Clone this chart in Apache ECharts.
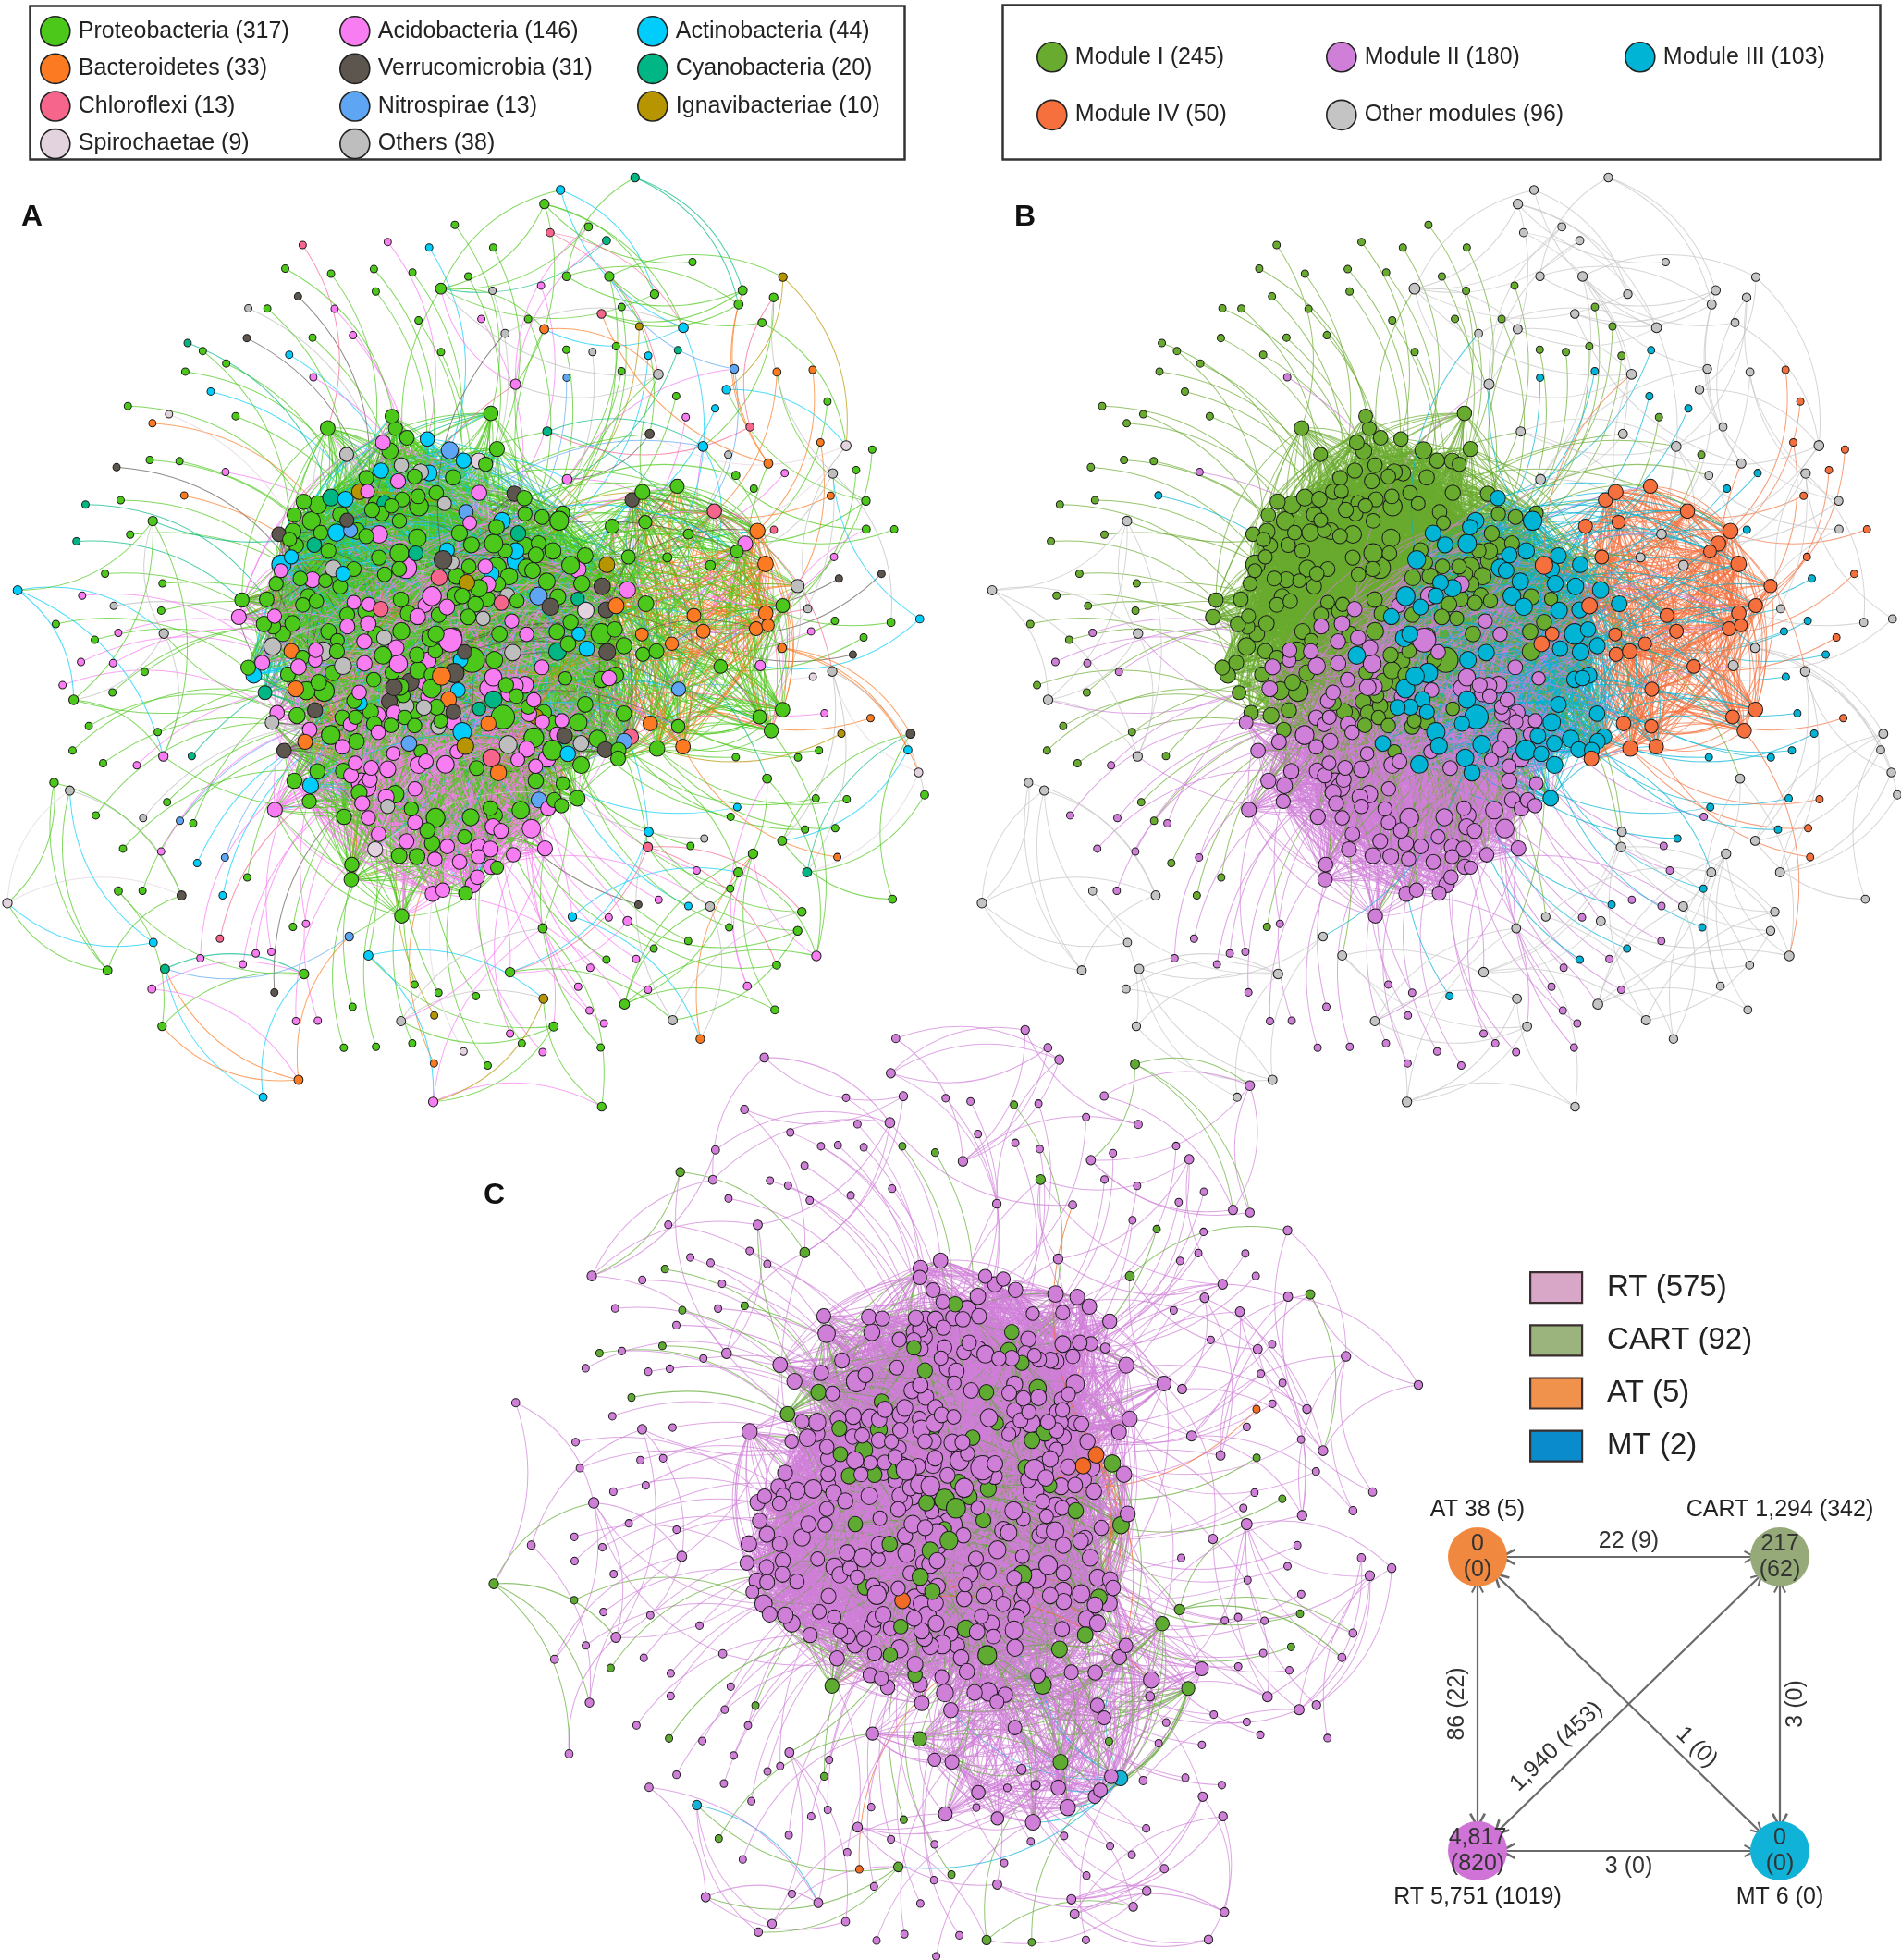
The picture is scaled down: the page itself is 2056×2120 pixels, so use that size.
<!DOCTYPE html>
<html>
<head>
<meta charset="utf-8">
<title>Co-occurrence networks</title>
<script src="https://cdn.jsdelivr.net/npm/echarts@6.0.0/dist/echarts.min.js"></script>
<style>
  html, body { margin: 0; padding: 0; background: #fff; }
  #chart { width: 2056px; height: 2120px; }
  #scratch { position: absolute; left: -4000px; top: 0; width: 1200px; height: 1200px; }
</style>
</head>
<body>
<div id="chart"></div>
<div id="scratch"></div>
<script>
;(function () {
    'use strict';

    // ---- groups shown in the three legends ----
    var taxa = ['Proteobacteria', 'Acidobacteria', 'Actinobacteria', 'Bacteroidetes', 'Verrucomicrobia',
        'Cyanobacteria', 'Chloroflexi', 'Nitrospirae', 'Ignavibacteriae', 'Spirochaetae', 'Others'];
    var taxaCounts = [317, 146, 44, 33, 31, 20, 13, 13, 10, 9, 38];
    var taxaColors = ['#4cc81a', '#f87cf2', '#00cdfb', '#fb7a22', '#5d564e', '#00b685',
        '#f6658b', '#5ea6f4', '#b79500', '#e2d3de', '#bebebe'];

    var modules = ['Module I', 'Module II', 'Module III', 'Module IV', 'Other modules'];
    var moduleCounts = [245, 180, 103, 50, 96];
    var moduleColors = ['#69ab2f', '#d07fd8', '#00b4d6', '#f5703d', '#c4c4c4'];

    var tissues = ['RT', 'CART', 'AT', 'MT'];
    var tissueCounts = [575, 92, 5, 2];
    var tissueKeyColors = ['#d8a7c7', '#9bb37d', '#f0924b', '#0a8bcb'];
    var tissueNodeColors = ['#d07fd8', '#5fab32', '#f26b26', '#14b3d8'];

    // taxon x module membership (columns: Module I..IV, Other), estimated from panels A/B
    var taxaByModule = [
        [140, 62, 50, 25, 40],
        [30, 95, 10, 2, 9],
        [22, 3, 6, 1, 12],
        [2, 3, 5, 17, 6],
        [10, 4, 12, 2, 3],
        [13, 0, 2, 0, 5],
        [3, 2, 3, 1, 4],
        [4, 2, 4, 1, 2],
        [2, 2, 4, 0, 2],
        [2, 2, 2, 0, 3],
        [17, 5, 5, 1, 10]
    ];
    // tissue x module membership (rows RT, CART, AT, MT), estimated
    var tissueByModule = [
        [205, 160, 82, 43, 85],
        [38, 18, 20, 6, 10],
        [2, 2, 1, 0, 0],
        [0, 0, 0, 1, 1]
    ];

    // links between modules [from, to, count]; with the small components the total is 7,089
    var moduleLinks = [
        [0, 0, 2500], [1, 1, 1750], [2, 2, 1100], [3, 3, 380],
        [0, 1, 320], [0, 2, 380], [1, 2, 320], [2, 3, 110],
        [1, 3, 15], [0, 3, 14], [0, 4, 15], [1, 4, 15], [2, 4, 6], [3, 4, 4]
    ];
    // "Other modules" = small satellite components: sizes and their internal links
    var otherModuleSizes = [14, 12, 11, 10, 9, 8, 8, 7, 6, 6, 5];
    var otherModuleLinks = [24, 20, 18, 16, 14, 13, 12, 12, 11, 10, 10];

    // ---- tissue summary diagram (bottom right) ----
    var summaryNodes = ['AT', 'CART', 'RT', 'MT'];
    var summaryTotals = ['38 (5)', '1,294 (342)', '5,751 (1019)', '6 (0)'];
    var summaryInner = ['0\n(0)', '217\n(62)', '4,817\n(820)', '0\n(0)'];
    var summaryCells = [[0, 1], [1, 1], [0, 0], [1, 0]];
    var summaryLinks = [
        [0, 1, '22 (9)'], [2, 0, '86 (22)'], [3, 1, '3 (0)'],
        [2, 3, '3 (0)'], [2, 1, '1,940 (453)'], [0, 3, '1 (0)']
    ];

    var FONT = '"Liberation Sans", Arial, sans-serif';
    var INK = '#222';
    var ARROW = 'path://M5,0L10,9L8.7,9.7L5,3L1.3,9.7L0,9Z';

    // R2 low-discrepancy steps: only decide which members a module's links join
    var STEP_U = 0.7548776662, STEP_V = 0.5698402910;
    var CORE_SHARE = 0.72;

    function frac(x) { return x - Math.floor(x); }
    function named(names, counts, i) { return names[i] + ' (' + counts[i] + ')'; }

    // spread the group sizes of one module column evenly over that module's ranks
    function spread(table, col) {
        var slots = [];
        table.forEach(function (row, g) {
            for (var j = 0; j < row[col]; j++) slots.push({g: g, at: (j + 0.5) / row[col]});
        });
        slots.sort(function (a, b) { return a.at - b.at || a.g - b.g; });
        return slots.map(function (x) { return x.g; });
    }

    function buildNetwork() {
        var members = [], moduleOf = [], comps = [], id = 0;
        var OTHER = moduleCounts.length - 1;
        moduleCounts.forEach(function (cnt, m) {
            var list = [];
            for (var k = 0; k < cnt; k++) { list.push(id); moduleOf.push(m); id++; }
            members.push(list);
        });
        var seen = {}, links = [], s = 0;
        function add(a, b) {
            if (a === b) return false;
            var key = a < b ? a + '_' + b : b + '_' + a;
            if (seen[key]) return false;
            seen[key] = true;
            links.push([a, b]);
            return true;
        }
        function coreOf(m) { return m === OTHER ? moduleCounts[m] : Math.round(moduleCounts[m] * CORE_SHARE); }
        function pick(m, u) { return members[m][Math.floor(coreOf(m) * Math.pow(u, 1.4))]; }

        // every member hangs on the core of its module
        for (var m = 0; m < OTHER; m++) {
            var L = members[m], core = coreOf(m);
            for (var k = 1; k < L.length; k++) add(L[k], L[Math.floor(Math.min(k, core) * frac(k * STEP_U))]);
        }
        // satellite components
        var start = 0;
        otherModuleSizes.forEach(function (size, j) {
            var comp = members[OTHER].slice(start, start + size);
            comps.push(comp);
            start += size;
            for (var k = 1; k < size; k++) add(comp[k], comp[Math.floor(k * frac(k * STEP_U))]);
            var made = size - 1, guard = 0;
            while (made < otherModuleLinks[j] && guard++ < 2000) {
                s++;
                if (add(comp[Math.floor(size * frac(0.5 + s * STEP_U))], comp[Math.floor(size * frac(0.5 + s * STEP_V))])) made++;
            }
        });
        moduleLinks.forEach(function (ml) {
            var p = ml[0], q = ml[1];
            var made = p === q ? moduleCounts[p] - 1 : 0, guard = 0;
            while (made < ml[2] && guard++ < ml[2] * 30) {
                s++;
                if (add(pick(p, frac(0.5 + s * STEP_U)), pick(q, frac(0.5 + s * STEP_V)))) made++;
            }
        });

        var degree = [], taxonOf = [], tissueOf = [];
        for (var i = 0; i < id; i++) degree.push(0);
        links.forEach(function (l) { degree[l[0]]++; degree[l[1]]++; });
        members.forEach(function (list, m) {
            var t = spread(taxaByModule, m), r = spread(tissueByModule, m);
            list.forEach(function (n, k) { taxonOf[n] = t[k]; tissueOf[n] = r[k]; });
        });
        return {count: id, links: links, members: members, comps: comps,
            moduleOf: moduleOf, taxonOf: taxonOf, tissueOf: tissueOf, degree: degree};
    }

    // order of nodes round the starting circle of the force layout
    function arrange(net, moduleOrder, compGroups, shift) {
        var order = [];
        moduleOrder.forEach(function (m, k) {
            order = order.concat(net.members[m]);
            compGroups[k].forEach(function (c) { order = order.concat(net.comps[c]); });
        });
        return order.slice(shift).concat(order.slice(0, shift));
    }

    // let ECharts' force layout place the nodes (off screen), once per node order
    function forceLayouts(net, orders) {
        var helper = echarts.init(document.getElementById('scratch'));
        var links = net.links.map(function (l) { return {source: 'n' + l[0], target: 'n' + l[1]}; });
        helper.setOption({
            animation: false,
            series: orders.map(function (order) {
                return {
                    type: 'graph', layout: 'force', silent: true,
                    force: {initLayout: 'circular', repulsion: 30, gravity: 0.3, edgeLength: 130, layoutAnimation: true},
                    symbolSize: 2,
                    lineStyle: {width: 0.2, opacity: 0.2},
                    data: order.map(function (i) { return {id: 'n' + i, name: 'n' + i}; }),
                    links: links
                };
            })
        });
        var model = helper.getModel();
        return orders.map(function (order, s) {
            var sm = model.getSeriesByIndex(s);
            var fl = sm.forceLayout, done = false, guard = 0;
            if (fl) {
                while (!done && guard++ < 3000) fl.step(function (stopped) { done = stopped; });
            }
            var data = sm.getData(), pos = {};
            for (var i = 0; i < data.count(); i++) {
                var p = data.getItemLayout(i);
                pos[data.getId(i)] = [p[0], p[1]];
            }
            return pos;
        });
    }

    function networkSeries(net, pos, cats, groupOf, box) {
        var nodes = [];
        for (var i = 0; i < net.count; i++) {
            var p = pos['n' + i];
            nodes.push({
                id: 'n' + i, name: 'n' + i, x: p[0], y: p[1],
                category: groupOf[i],
                symbolSize: 6 + 1.9 * Math.sqrt(net.degree[i])
            });
        }
        return {
            type: 'graph', layout: 'none', silent: true, roam: false,
            left: box[0], top: box[1], width: box[2], height: box[3],
            categories: cats,
            data: nodes,
            links: net.links.map(function (l) { return {source: 'n' + l[0], target: 'n' + l[1]}; }),
            itemStyle: {borderColor: '#1b1b1b', borderWidth: 1},
            lineStyle: {color: 'source', width: 1, opacity: 0.7, curveness: 0.25},
            label: {show: false},
            emphasis: {disabled: true}
        };
    }

    var net = buildNetwork();
    var orderAB = arrange(net, [3, 2, 1, 0], [[0, 1, 2], [3, 4, 5], [6, 7, 8], [9, 10]], 168);
    var orderC = arrange(net, [1, 3, 0, 2], [[0, 5, 9], [2, 4], [1, 6, 8], [3, 7, 10]], 60);
    var layouts = forceLayouts(net, [orderAB, orderC]);

    var taxaCats = taxa.map(function (t, i) { return {name: named(taxa, taxaCounts, i), itemStyle: {color: taxaColors[i]}}; });
    var moduleCats = modules.map(function (t, i) { return {name: named(modules, moduleCounts, i), itemStyle: {color: moduleColors[i]}}; });
    var tissueCats = tissues.map(function (t, i) { return {name: named(tissues, tissueCounts, i), itemStyle: {color: tissueNodeColors[i]}}; });

    function legendColumn(names, left, top, gap) {
        return {
            orient: 'vertical', left: left, top: top, itemGap: gap,
            itemWidth: 32, itemHeight: 32, icon: 'circle', selectedMode: false,
            itemStyle: {borderColor: '#222', borderWidth: 1.6},
            textStyle: {fontSize: 25, color: INK, fontFamily: FONT, padding: [0, 0, 0, 4]},
            data: names
        };
    }
    function pickNames(cats, idx) { return idx.map(function (i) { return cats[i].name; }); }

    var legends = [
        legendColumn(pickNames(taxaCats, [0, 3, 6, 9]), 38, 12, 7),
        legendColumn(pickNames(taxaCats, [1, 4, 7, 10]), 362, 12, 7),
        legendColumn(pickNames(taxaCats, [2, 5, 8]), 684, 12, 7),
        legendColumn(pickNames(moduleCats, [0, 3]), 1116, 40, 29),
        legendColumn(pickNames(moduleCats, [1, 4]), 1429, 40, 29),
        legendColumn(pickNames(moduleCats, [2]), 1752, 40, 29),
        {
            orient: 'vertical', left: 1649, top: 1370, itemGap: 22,
            itemWidth: 56, itemHeight: 33, icon: 'rect', selectedMode: false,
            itemStyle: {borderColor: '#3a2e2e', borderWidth: 2.2},
            textStyle: {fontSize: 33, color: INK, fontFamily: FONT, padding: [0, 0, 0, 22]},
            data: tissueCats.map(function (c, i) { return {name: c.name, itemStyle: {color: tissueKeyColors[i]}}; })
        }
    ];

    var letterStyle = {fontSize: 32, fontWeight: 'bold', color: '#111', fontFamily: FONT};

    var summarySeries = {
        type: 'graph', coordinateSystem: 'cartesian2d', xAxisIndex: 0, yAxisIndex: 0,
        silent: true, emphasis: {disabled: true},
        symbolSize: 64,
        edgeSymbol: [ARROW, ARROW], edgeSymbolSize: [18, 14],
        lineStyle: {color: '#6a6a6a', width: 2.2, opacity: 1, curveness: 0},
        label: {show: true, position: 'inside', fontSize: 25, lineHeight: 28, color: '#333', fontFamily: FONT},
        data: summaryNodes.map(function (n, i) {
            return {name: n, value: summaryCells[i],
                itemStyle: {color: ['#f0893f', '#95aa78', '#cf74d6', '#11b2d8'][i]},
                label: {formatter: summaryInner[i]}};
        }),
        links: summaryLinks.map(function (l, i) {
            var place = [
                ['insideMiddleTop', 4], ['insideMiddleTop', 9], ['insideMiddleBottom', 5],
                ['insideMiddleBottom', 5], ['insideStartTop', [44, 9]], ['insideEndTop', [85, 5]]
            ][i];
            return {
                source: l[0], target: l[1],
                label: {show: true, formatter: l[2], position: place[0], distance: place[1],
                    fontSize: 25, color: '#333', fontFamily: FONT}
            };
        })
    };
    var summaryTitles = {
        type: 'scatter', xAxisIndex: 0, yAxisIndex: 0, silent: true,
        symbolSize: 64, itemStyle: {color: 'rgba(0,0,0,0)'},
        label: {show: true, formatter: '{b}', fontSize: 25, color: '#222', opacity: 1, fontFamily: FONT, distance: 6},
        data: summaryNodes.map(function (n, i) {
            return {name: n + ' ' + summaryTotals[i], value: summaryCells[i],
                label: {position: summaryCells[i][1] === 1 ? 'top' : 'bottom'}};
        }),
        z: 5
    };

    var chart = echarts.init(document.getElementById('chart'));
    chart.setOption({
        backgroundColor: '#fff',
        animation: false,
        title: [
            {text: 'A', left: 18, top: 214, textStyle: letterStyle},
            {text: 'B', left: 1092, top: 214, textStyle: letterStyle},
            {text: 'C', left: 518, top: 1272, textStyle: letterStyle}
        ],
        legend: legends,
        graphic: [
            {type: 'rect', left: 30, top: 4, shape: {width: 946, height: 166}, style: {fill: 'none', stroke: '#333', lineWidth: 2.5}},
            {type: 'rect', left: 1082, top: 3, shape: {width: 949, height: 167}, style: {fill: 'none', stroke: '#333', lineWidth: 2.5}}
        ],
        grid: {left: 1598, top: 1684, width: 327, height: 318},
        xAxis: {type: 'value', min: 0, max: 1, show: false},
        yAxis: {type: 'value', min: 0, max: 1, show: false},
        series: [
            networkSeries(net, layouts[0], taxaCats, net.taxonOf, [8, 192, 992, 1005]),
            networkSeries(net, layouts[0], moduleCats, net.moduleOf, [1062, 192, 990, 1005]),
            networkSeries(net, layouts[1], tissueCats, net.tissueOf, [534, 1114, 1000, 1002]),
            summarySeries,
            summaryTitles
        ]
    });
})();
</script>
</body>
</html>
